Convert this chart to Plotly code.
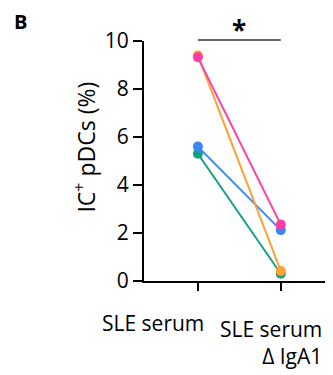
import plotly.graph_objects as go

categories = ["SLE serum", "SLE serum<br>Δ IgA1"]
x_pos = [0, 1]
series_values = {
    "orange": [9.4, 0.42],
    "pink": [9.32, 2.35],
    "blue": [5.6, 2.12],
    "green": [5.3, 0.3],
}
series_colors = {
    "orange": "#FFA033",
    "pink": "#FF3EA5",
    "blue": "#3A86F5",
    "green": "#14A085",
}
y_ticks = [0, 2, 4, 6, 8, 10]

FONT = "Open Sans"
fig = go.Figure()
for name in ["green", "blue", "orange", "pink"]:
    fig.add_trace(go.Scatter(
        x=x_pos, y=series_values[name], mode="lines+markers",
        line=dict(color=series_colors[name], width=2),
        marker=dict(color=series_colors[name], size=10),
        showlegend=False, cliponaxis=False,
    ))

# significance bar and star
fig.add_shape(type="line", xref="x", yref="paper", x0=x_pos[0], x1=x_pos[1], y0=1.0043, y1=1.0043,
              line=dict(color="#666666", width=2))
fig.add_annotation(x=(x_pos[0] + x_pos[1]) / 2, y=1, xref="x", yref="paper", text="<b>*</b>",
                   showarrow=False, yanchor="middle", yshift=11,
                   font=dict(family=FONT, size=26, color="black"))
# panel letter
fig.add_annotation(x=-0.656, y=1.0819, xref="paper", yref="paper", text="<b>B</b>", showarrow=False,
                   xanchor="center", yanchor="middle", borderpad=0,
                   font=dict(family=FONT, size=20, color="black"))
# y-axis title
fig.add_annotation(x=-0.312, y=0.556, xref="paper", yref="paper", text="IC<sup>+</sup> pDCs (%)",
                   textangle=-90, showarrow=False, xanchor="center", yanchor="middle",
                   font=dict(family=FONT, size=23, color="black"))

# category labels (right-aligned near their ticks, staggered so they do not collide)
label_offsets = [(7, -27), (42, -33)]
for xv, txt, (dx, dy) in zip(x_pos, categories, label_offsets):
    fig.add_annotation(x=xv, y=0, xref="x", yref="y", text=txt, showarrow=False,
                       xanchor="right", yanchor="top", align="right", borderpad=0,
                       xshift=dx, yshift=dy,
                       font=dict(family=FONT, size=21, color="black"))

fig.update_layout(
    width=325, height=367,
    margin=dict(l=136, r=0, t=33, b=94),
    paper_bgcolor="white", plot_bgcolor="white",
    font=dict(family=FONT, size=21, color="black"),
    xaxis=dict(range=[-0.65, 1.63], tickvals=x_pos, showticklabels=False,
               automargin=False,
               showline=True, linecolor="black", linewidth=2, ticks="outside", ticklen=8,
               tickwidth=2, tickcolor="black", showgrid=False, zeroline=False),
    yaxis=dict(range=[0, 10], tickvals=y_ticks, showline=True, linecolor="black", linewidth=2,
               automargin=False,
               ticks="outside", ticklen=9, tickwidth=2, tickcolor="black", showgrid=False,
               zeroline=False, tickfont=dict(family=FONT, size=21)),
)
fig.write_html("out.html")
